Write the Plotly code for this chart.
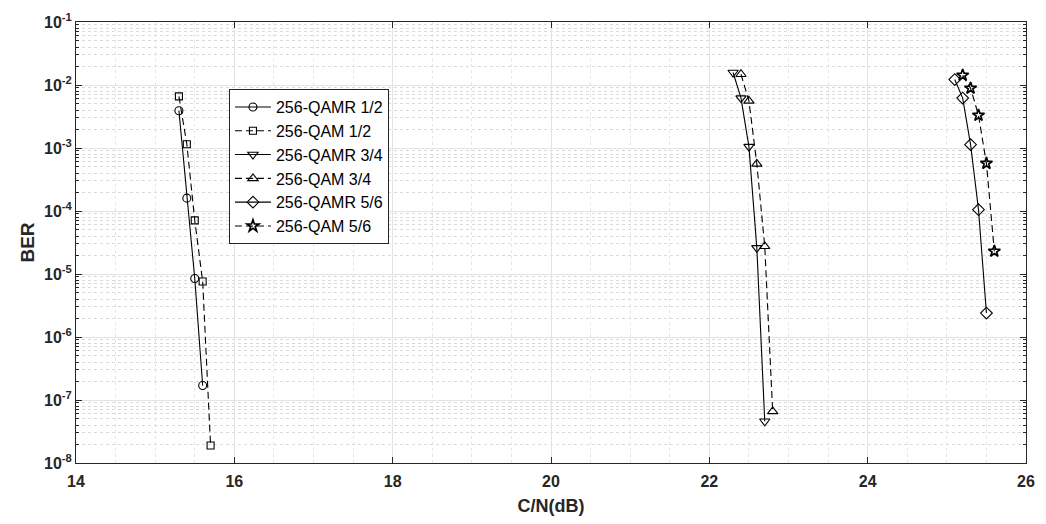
import plotly.graph_objects as go

# C/N (dB) sweep points and measured BER for each scheme
cn_qamr_12 = [15.3, 15.4, 15.5, 15.6]
ber_qamr_12 = [3.9e-3, 1.6e-4, 8.5e-6, 1.7e-7]

cn_qam_12 = [15.3, 15.4, 15.5, 15.6, 15.7]
ber_qam_12 = [6.6e-3, 1.15e-3, 7.1e-5, 7.6e-6, 1.9e-8]

cn_qamr_34 = [22.3, 22.4, 22.5, 22.6, 22.7]
ber_qamr_34 = [1.58e-2, 6.2e-3, 1.05e-3, 2.6e-5, 4.6e-8]

cn_qam_34 = [22.4, 22.5, 22.6, 22.7, 22.8]
ber_qam_34 = [1.48e-2, 5.6e-3, 5.6e-4, 2.75e-5, 6.6e-8]

cn_qamr_56 = [25.1, 25.2, 25.3, 25.4, 25.5]
ber_qamr_56 = [1.22e-2, 6.2e-3, 1.13e-3, 1.05e-4, 2.4e-6]

cn_qam_56 = [25.2, 25.3, 25.4, 25.5, 25.6]
ber_qam_56 = [1.43e-2, 8.9e-3, 3.3e-3, 5.7e-4, 2.3e-5]

series_names = ["256-QAMR 1/2", "256-QAM 1/2", "256-QAMR 3/4",
                "256-QAM 3/4", "256-QAMR 5/6", "256-QAM 5/6"]

x_ticks = [14, 16, 18, 20, 22, 24, 26]
y_exponents = [-8, -7, -6, -5, -4, -3, -2, -1]

DASH = "7px,4px"
series = [
    (cn_qamr_12, ber_qamr_12, "solid", "circle-open", 8),
    (cn_qam_12, ber_qam_12, DASH, "square-open", 7),
    (cn_qamr_34, ber_qamr_34, "solid", "triangle-down-open", 9),
    (cn_qam_34, ber_qam_34, DASH, "triangle-up-open", 9),
    (cn_qamr_56, ber_qamr_56, "solid", "diamond-open", 9),
    (cn_qam_56, ber_qam_56, DASH, "star-open", 9),
]

fig = go.Figure()
for name, (x, y, dash, sym, size) in zip(series_names, series):
    mw = 1.7 if sym.startswith("star") else 1.1
    fig.add_trace(go.Scatter(
        x=x, y=y, name=name, mode="lines+markers",
        line=dict(color="black", width=1.1, dash=dash),
        marker=dict(symbol=sym, size=size, color="black",
                    line=dict(color="black", width=mw)),
    ))

axis_color = "#262626"
FONT = "Liberation Sans, Arial, sans-serif"
tick_font = dict(family=FONT, size=16, color=axis_color, weight="bold")

y_tickvals = [10.0 ** e for e in y_exponents]
y_ticktext = ["10<sup>%d</sup>" % e for e in y_exponents]
y_minor = [k * 10.0 ** e for e in y_exponents[:-1] for k in range(2, 10)]

fig.update_layout(
    width=1046, height=524,
    margin=dict(l=76, r=11, t=20, b=58),
    plot_bgcolor="white", paper_bgcolor="white",
    showlegend=True,
    legend=dict(
        x=0.161, y=0.848, xanchor="left", yanchor="top",
        bgcolor="white", bordercolor="#262626", borderwidth=1,
        font=dict(family=FONT, size=16, color="black"),
        tracegroupgap=0, itemwidth=36,
    ),
    xaxis=dict(
        range=[14, 26], tickvals=x_ticks,
        showline=True, linecolor=axis_color, linewidth=1, mirror="ticks",
        ticks="inside", ticklen=6, tickcolor=axis_color,
        showgrid=True, gridcolor="#e3e3e3", gridwidth=1,
        zeroline=False, tickfont=tick_font, ticklabelstandoff=4,
        minor=dict(dtick=0.5, showgrid=True, gridcolor="#e6e6e6",
                   griddash="dot", ticks=""),
        title=dict(text="C/N(dB)", standoff=10,
                   font=dict(family=FONT, size=18, color=axis_color,
                             weight="bold")),
    ),
    yaxis=dict(
        type="log", range=[-8, -1],
        tickvals=y_tickvals, ticktext=y_ticktext,
        showline=True, linecolor=axis_color, linewidth=1, mirror="ticks",
        ticks="inside", ticklen=6, tickcolor=axis_color,
        showgrid=True, gridcolor="#e3e3e3", gridwidth=1,
        zeroline=False, tickfont=tick_font,
        minor=dict(tickvals=y_minor, showgrid=True, gridcolor="#d9d9d9",
                   griddash="dot", ticks="inside", ticklen=3,
                   tickcolor=axis_color),
        title=dict(text="BER", standoff=4,
                   font=dict(family=FONT, size=19, color=axis_color,
                             weight="bold")),
    ),
)

fig.write_html("out.html")
